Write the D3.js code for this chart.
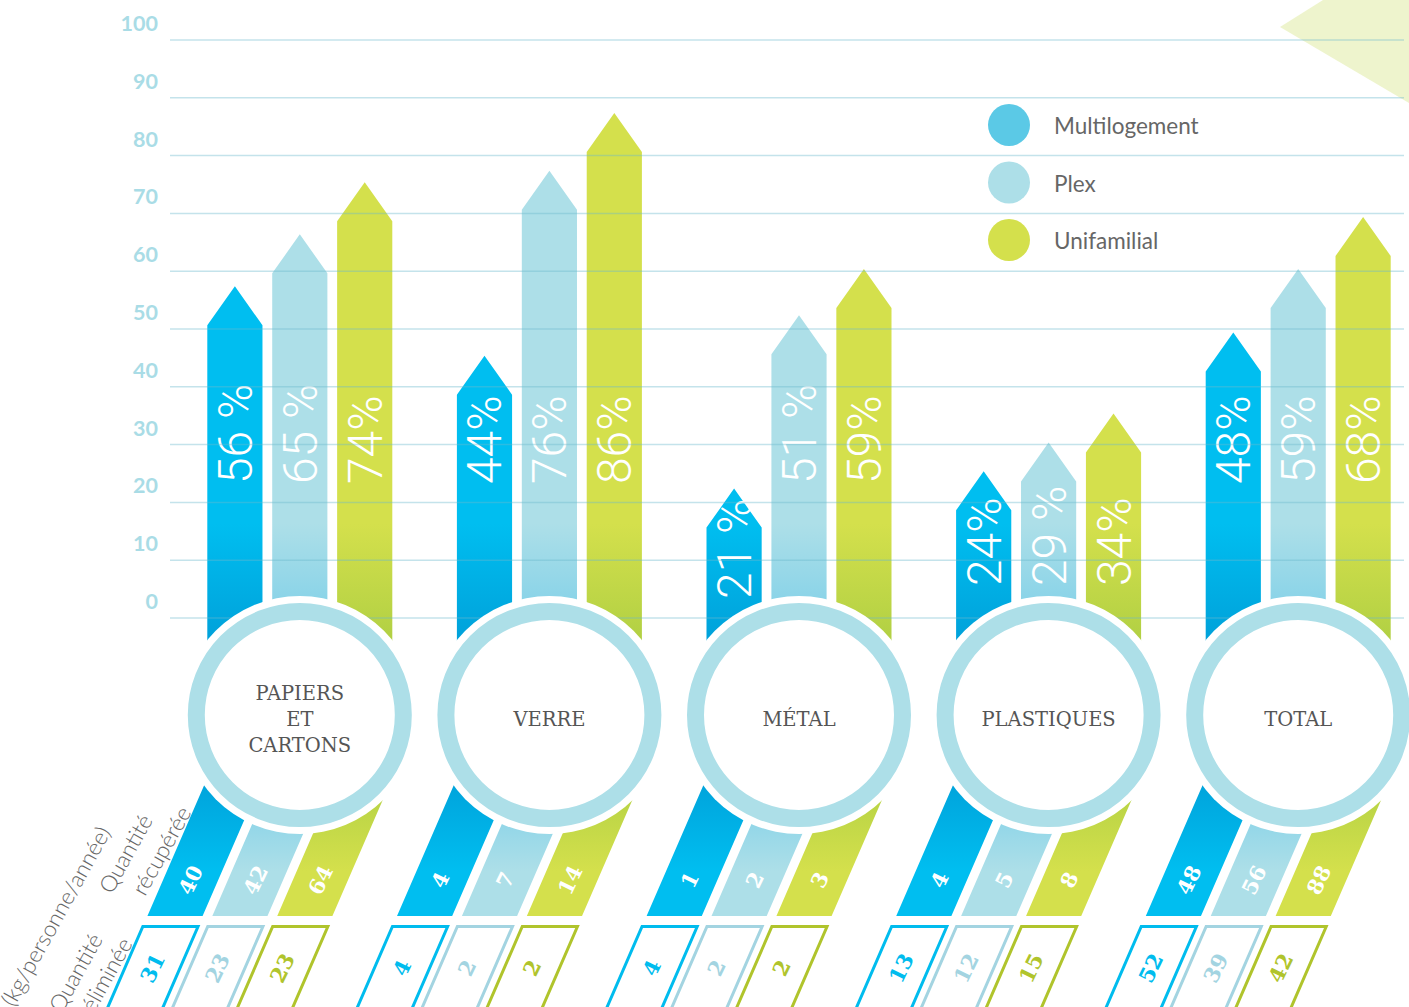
<!DOCTYPE html>
<html><head><meta charset="utf-8">
<script src="https://cdn.jsdelivr.net/npm/d3@7"></script>
<style>
html,body{margin:0;padding:0;background:#fff;}
svg{display:block;}
</style></head>
<body>
<script>
const categories = ["PAPIERS ET CARTONS", "VERRE", "MÉTAL", "PLASTIQUES", "TOTAL"];
const categoryLines = [["PAPIERS", "ET", "CARTONS"], ["VERRE"], ["MÉTAL"], ["PLASTIQUES"], ["TOTAL"]];
const series = ["Multilogement", "Plex", "Unifamilial"];
const pctMulti = [56, 44, 21, 24, 48];
const pctPlex = [65, 76, 51, 29, 59];
const pctUni = [74, 86, 59, 34, 68];
const recMulti = [40, 4, 1, 4, 48];
const recPlex = [42, 7, 2, 5, 56];
const recUni = [64, 14, 3, 8, 88];
const elimMulti = [31, 4, 4, 13, 52];
const elimPlex = [23, 2, 2, 12, 39];
const elimUni = [23, 2, 2, 15, 42];
const yTicks = [0, 10, 20, 30, 40, 50, 60, 70, 80, 90, 100];
const pctLabels = [["56 %", "65 %", "74%"], ["44%", "76%", "86%"], ["21 %", "51 %", "59%"], ["24%", "29 %", "34%"], ["48%", "59%", "68%"]];

const W = 1409, H = 1007;
const pct = [pctMulti, pctPlex, pctUni];
const rec = [recMulti, recPlex, recUni];
const elim = [elimMulti, elimPlex, elimUni];

const colLight = ["#00BEF0", "#ADDFE8", "#D4E04C"];
const colDark = ["#008FCC", "#57C3E8", "#9BC63E"];
const colOutline = ["#00BCEE", "#A3D4E1", "#B0C42C"];
const colLegend = ["#5BC9E6", "#ADDFE8", "#D4E04C"];

const svg = d3.select("body").append("svg").attr("width", W).attr("height", H);
svg.append("rect").attr("width", W).attr("height", H).attr("fill", "#fff");

const defs = svg.append("defs");
series.forEach((s, i) => {
  const g = defs.append("linearGradient").attr("id", "grad" + i)
    .attr("gradientUnits", "userSpaceOnUse").attr("x1", 0).attr("y1", 0).attr("x2", 0).attr("y2", H);
  [[0, colLight[i]], [0.52, colLight[i]], [0.71, colDark[i]], [0.865, colLight[i]], [1, colLight[i]]]
    .forEach(([o, c]) => g.append("stop").attr("offset", o).attr("stop-color", c));
});

const x = d3.scaleBand().domain(categories).range([175, 1423]);
const xs = d3.scaleBand().domain(series).range([-92.5, 92.5]).paddingInner(0.15);
const y = d3.scaleLinear().domain([0, 100]).range([618, 40]);
const bw = xs.bandwidth();
const cxOf = c => x(c) + x.bandwidth() / 2;

const shearY = 778, k = 0.434, recBottom = 916, elimTop = 926.5;
const circleY = 715;

// top-right decoration
svg.append("path").attr("d", "M1280,27 L1409,-54 L1409,103 Z").attr("fill", "#C8DC5A").attr("opacity", 0.3);

// bars (arrow + sheared continuation)
const barData = [];
categories.forEach((c, ci) => series.forEach((s, si) => barData.push({c, ci, s, si, v: pct[si][ci]})));

svg.append("g").selectAll("path").data(barData).join("path")
  .attr("d", d => {
    const L = cxOf(d.c) + xs(d.s), R = L + bw, M = L + bw / 2;
    const tip = y(d.v) - 8, sh = tip + 39;
    const dx = (recBottom - shearY) * k;
    return `M${M},${tip} L${R},${sh} L${R},${shearY} L${R - dx},${recBottom} L${L - dx},${recBottom} L${L},${shearY} L${L},${sh} Z`;
  })
  .attr("fill", d => `url(#grad${d.si})`);

// percentage labels
svg.append("g").selectAll("text").data(barData).join("text")
  .attr("transform", d => {
    const tx = cxOf(d.c) + xs(d.s) + bw / 2 + 17;
    const ty = d.v >= 40 ? 484 : (d.v < 22 ? 599 : 586);
    return `translate(${tx},${ty}) rotate(-90)`;
  })
  .attr("fill", "#fff")
  .attr("font-family", "Roboto, 'Open Sans', sans-serif")
  .attr("font-weight", 300)
  .attr("font-size", 48)
  .text(d => pctLabels[d.ci][d.si]);

// gridlines
svg.append("g").selectAll("line").data(yTicks).join("line")
  .attr("x1", 170).attr("x2", 1404)
  .attr("y1", d => y(d)).attr("y2", d => y(d))
  .attr("stroke", "#6BB8CC").attr("stroke-opacity", 0.4).attr("stroke-width", 1.5);

// y labels
svg.append("g").selectAll("text").data(yTicks).join("text")
  .attr("x", 158).attr("y", d => y(d) - 9)
  .attr("text-anchor", "end")
  .attr("fill", "#A9DCE6")
  .attr("font-family", "Lato, 'Open Sans', sans-serif")
  .attr("font-weight", 700)
  .attr("font-size", 21.5)
  .text(d => d);

// outlined eliminated parallelograms
svg.append("g").selectAll("path").data(barData).join("path")
  .attr("d", d => {
    const L = cxOf(d.c) + xs(d.s), R = L + bw;
    const d1 = (elimTop - shearY) * k, d2 = (1080 - shearY) * k;
    return `M${L - d1},${elimTop} L${R - d1},${elimTop} L${R - d2},1080 L${L - d2},1080 Z`;
  })
  .attr("fill", "none").attr("stroke", d => colOutline[d.si]).attr("stroke-width", 3);

// circles
const cg = svg.append("g").selectAll("g").data(categories).join("g")
  .attr("transform", c => `translate(${cxOf(c)},${circleY})`);
cg.append("circle").attr("r", 119).attr("fill", "#fff");
cg.append("circle").attr("r", 103.5).attr("fill", "#fff").attr("stroke", "#ADDFE8").attr("stroke-width", 17);
cg.each(function(c, i) {
  const lines = categoryLines[i];
  const g = d3.select(this);
  lines.forEach((t, li) => {
    g.append("text").attr("x", 0).attr("y", (li - (lines.length - 1) / 2) * 26 + 11)
      .attr("text-anchor", "middle")
      .attr("fill", "#555")
      .attr("font-family", "'DejaVu Serif', serif")
      .attr("font-size", 19.5)
      .text(t);
  });
});

// numbers in parallelograms
const ang = -64;
svg.append("g").selectAll("text").data(barData).join("text")
  .attr("transform", d => {
    const cx0 = cxOf(d.c) + xs(d.s) + bw / 2;
    const yy = 880;
    return `translate(${cx0 - (yy - shearY) * k},${yy}) rotate(${ang})`;
  })
  .attr("text-anchor", "middle").attr("dominant-baseline", "central")
  .attr("fill", "#fff")
  .attr("font-family", "'DejaVu Serif', serif").attr("font-weight", "bold").attr("font-size", 21)
  .text(d => rec[d.si][d.ci]);

svg.append("g").selectAll("text").data(barData).join("text")
  .attr("transform", d => {
    const cx0 = cxOf(d.c) + xs(d.s) + bw / 2;
    const yy = 968;
    return `translate(${cx0 - (yy - shearY) * k},${yy}) rotate(${ang})`;
  })
  .attr("text-anchor", "middle").attr("dominant-baseline", "central")
  .attr("fill", d => colOutline[d.si])
  .attr("font-family", "'DejaVu Serif', serif").attr("font-weight", "bold").attr("font-size", 21)
  .text(d => elim[d.si][d.ci]);

// left rotated labels
const leftLabels = [
  {t: "(kg/personne/année)", x: 14, y: 1008},
  {t: "Quantité", x: 112, y: 895},
  {t: "récupérée", x: 145, y: 897},
  {t: "Quantité", x: 62, y: 1014},
  {t: "éliminée", x: 94, y: 1014}
];
svg.append("g").selectAll("text").data(leftLabels).join("text")
  .attr("transform", d => `translate(${d.x},${d.y}) rotate(-61)`)
  .attr("fill", "#666")
  .attr("font-family", "Lato, 'Open Sans', sans-serif")
  .attr("font-weight", 300)
  .attr("font-size", 22.5)
  .text(d => d.t);

// legend
const lg = svg.append("g").selectAll("g").data(series).join("g")
  .attr("transform", (s, i) => `translate(1009,${125 + i * 57.5})`);
lg.append("circle").attr("r", 21).attr("fill", (s, i) => colLegend[i]);
lg.append("text").attr("x", 45).attr("y", 9)
  .attr("fill", "#666")
  .attr("font-family", "Lato, 'Open Sans', sans-serif")
  .attr("font-size", 22.5)
  .text(s => s);
</script>
</body></html>
